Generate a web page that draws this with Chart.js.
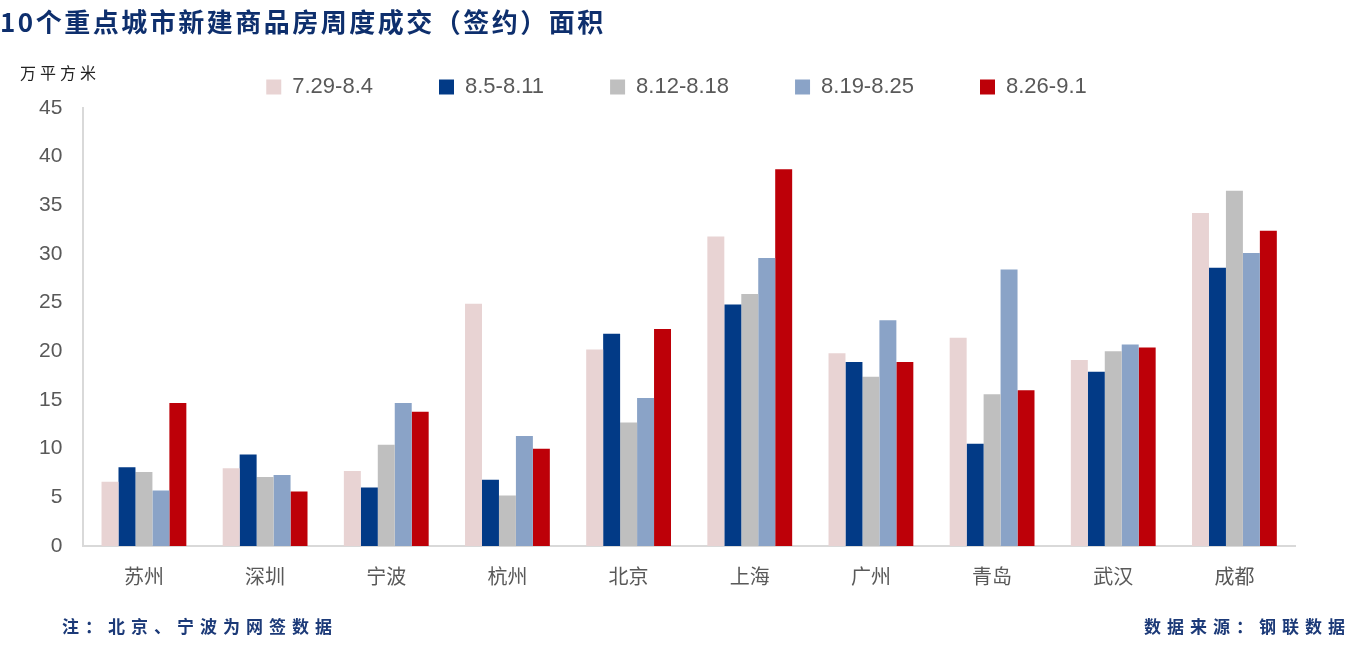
<!DOCTYPE html>
<html lang="zh">

<head>
    <meta charset="UTF-8">
    <title>10个重点城市新建商品房周度成交（签约）面积</title>
    <style>
        body { margin: 0; background: #fff; }
        .wrap { position: relative; width: 1353px; height: 647px; }
        .title { position: absolute; left: 0; top: 2px; font: bold 26px "Noto Sans CJK SC"; letter-spacing: 2.5px; color: #0e2f6d; }
        .unit { position: absolute; left: 20px; top: 60px; font: 16px "Noto Sans CJK SC"; letter-spacing: 4px; color: #222; }
        .note { position: absolute; top: 613px; font: bold 17px "Noto Sans CJK SC"; letter-spacing: 6px; color: #1c3a78; }
    </style>
</head>

<body>
    <div class="wrap">
        <canvas id="myChart" width="1353" height="647"></canvas>
        <div class="title">10个重点城市新建商品房周度成交（签约）面积</div>
        <div class="unit">万平方米</div>
        <div class="note" style="left:62px">注：北京、宁波为网签数据</div>
        <div class="note" style="right:2px;letter-spacing:6px">数据来源：钢联数据</div>
    </div>
    <script src="https://cdn.jsdelivr.net/npm/chart.js"></script>
    <script>
        const cities = ['苏州', '深圳', '宁波', '杭州', '北京', '上海', '广州', '青岛', '武汉', '成都']
        const weeks = ['7.29-8.4', '8.5-8.11', '8.12-8.18', '8.19-8.25', '8.26-9.1']
        const w0729 = [6.6, 8.0, 7.7, 24.9, 20.2, 31.8, 19.8, 21.4, 19.1, 34.2]
        const w0805 = [8.1, 9.4, 6.0, 6.8, 21.8, 24.8, 18.9, 10.5, 17.9, 28.6]
        const w0812 = [7.6, 7.1, 10.4, 5.2, 12.7, 25.9, 17.4, 15.6, 20.0, 36.5]
        const w0819 = [5.7, 7.3, 14.7, 11.3, 15.2, 29.6, 23.2, 28.4, 20.7, 30.1]
        const w0826 = [14.7, 5.6, 13.8, 10.0, 22.3, 38.7, 18.9, 16.0, 20.4, 32.4]
        const colors = ['#e8d3d3', '#023a86', '#bfbfbf', '#8aa3c7', '#bd0008']

        const series = [w0729, w0805, w0812, w0819, w0826]

        // legend in the original is centred on the page, not on the plot
        const shiftLegend = {
            id: 'shiftLegend',
            afterLayout(chart) {
                chart.legend.left += 16
                chart.legend.right += 16
            }
        }

        const ctx = document.getElementById('myChart').getContext('2d');
        new Chart(ctx, {
            type: 'bar',
            data: {
                labels: cities,
                datasets: series.map((d, i) => ({
                    label: weeks[i],
                    data: d,
                    backgroundColor: colors[i],
                    barPercentage: 1,
                    categoryPercentage: 0.7
                }))
            },
            options: {
                responsive: false,
                animation: false,
                layout: { padding: { left: 26, right: 58, top: 10, bottom: 49 } },
                plugins: {
                    legend: {
                        position: 'top',
                        labels: {
                            boxWidth: 15,
                            boxHeight: 15,
                            padding: 66,
                            color: '#595959',
                            font: { family: 'Liberation Sans', size: 22 }
                        }
                    },
                    tooltip: { enabled: false }
                },
                scales: {
                    x: {
                        grid: { display: false },
                        border: { color: '#d9d9d9', width: 2 },
                        ticks: { color: '#595959', padding: 10, font: { family: 'Noto Sans CJK SC', size: 20 } }
                    },
                    y: {
                        min: 0,
                        max: 45,
                        grid: { display: false },
                        border: { color: '#d9d9d9', width: 2 },
                        ticks: { stepSize: 5, color: '#595959', padding: 13, font: { family: 'Liberation Sans', size: 21 } }
                    }
                }
            },
            plugins: [shiftLegend]
        });
    </script>
</body>

</html>
